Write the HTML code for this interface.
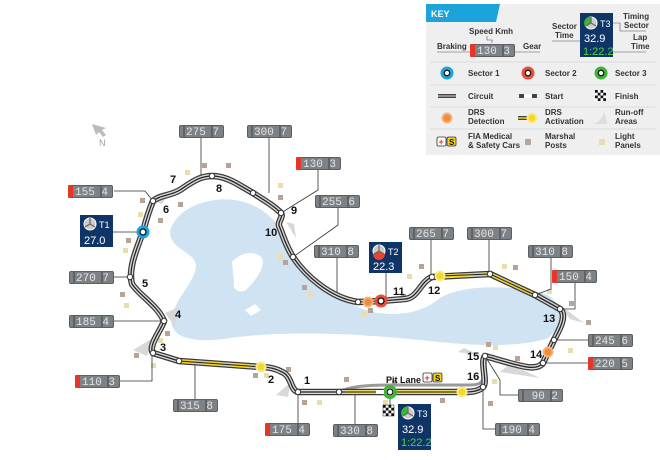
<!DOCTYPE html>
<html><head><meta charset="utf-8"><style>
html,body{margin:0;padding:0;background:#fff;}
svg{display:block;font-family:"Liberation Sans",sans-serif;}
.lb{font-size:11px;font-weight:bold;fill:#111;}
.kt{font-size:8px;font-weight:bold;fill:#333;}
.bt{font-size:11px;fill:#e6e6e6;font-family:"Liberation Mono",monospace;}
</style></head><body>
<svg width="660" height="460" viewBox="0 0 660 460" xmlns="http://www.w3.org/2000/svg">
<defs>
<g id="box"><rect x="0" y="0" width="45" height="13" rx="2" fill="#5b5f63"/><rect x="1" y="1" width="43" height="11" rx="1.5" fill="#7d8287"/><line x1="33" y1="1" x2="33" y2="12" stroke="#444"/><line x1="5" y1="1" x2="5" y2="12" stroke="#444"/></g>
<g id="rbox"><rect x="0" y="0" width="45" height="13" rx="2" fill="#5b5f63"/><rect x="1" y="1" width="43" height="11" rx="1.5" fill="#7d8287"/><line x1="33" y1="1" x2="33" y2="12" stroke="#444"/><rect x="0" y="0" width="5" height="13" rx="1" fill="#e8352a"/></g>
<path id="trk" d="M390,392 L298,392 C290,390 292,376 282,372 C275,368 268,367 261,367 L179,361 L153,353 C148,346 160,332 164,321 C158,306 140,296 132,284 C128,270 136,250 143,232 C146,220 150,208 153,201 C160,195 170,196 180,190 C192,182 200,176 212,176 C228,176 240,186 253,193 C264,200 274,206 281,213 C284,218 276,222 280,228 C283,236 287,248 293,257 C305,275 330,298 358,302 L381,301 L405,299 C418,298 420,282 432,277 L490,274 L535,295 L560,309 C568,316 558,332 554,340 L543,363 C536,372 520,366 485,356 C480,362 488,382 483,387 C478,392 470,392 462,392 Z"/>
</defs>

<!-- water -->
<path d="M170,232 C175,210 205,196 235,200 C262,204 280,222 292,250 C305,275 330,292 360,308 C385,318 420,316 440,298 C460,286 500,284 540,292 C562,298 568,322 548,338 C520,348 470,346 420,340 C360,334 290,330 230,338 C195,344 168,338 172,318 C174,300 195,282 196,266 C196,252 170,250 170,232 Z" fill="#cfe3f3"/>
<path d="M232,262 C240,252 256,250 262,258 C266,266 256,280 246,290 C240,294 232,290 234,282 Z" fill="#fff"/>
<path d="M245,310 l10,-6 l6,6 l-10,6 z" fill="#fff"/>

<!-- run-off areas -->
<g fill="#d8d8d8">
<path d="M150,200 l20,-8 l-8,12 z"/><path d="M286,222 l10,16 l-2,-14 z"/>
<path d="M165,313 l14,-6 l-4,20 z"/><path d="M133,350 l20,-12 l-6,18 z"/>
<path d="M276,395 l14,-12 l-2,14 z"/><path d="M458,352 l24,4 l-18,-8 z"/>
<path d="M560,305 l24,18 l-14,-4 z"/><path d="M500,372 l40,6 l-30,-14 z"/>
</g>

<!-- marshal / light posts -->
<g fill="#b9a296">
<rect x="202" y="163" width="5" height="5"/><rect x="226" y="163" width="5" height="5"/><rect x="140" y="198" width="5" height="5"/><rect x="178" y="202" width="5" height="5"/><rect x="158" y="218" width="5" height="5"/><rect x="126" y="238" width="5" height="5"/><rect x="278" y="195" width="5" height="5"/><rect x="283" y="260" width="5" height="5"/><rect x="302" y="285" width="5" height="5"/><rect x="120" y="292" width="5" height="5"/><rect x="165" y="331" width="5" height="5"/><rect x="134" y="353" width="5" height="5"/><rect x="253" y="373" width="5" height="5"/><rect x="286" y="367" width="5" height="5"/><rect x="302" y="400" width="5" height="5"/><rect x="344" y="377" width="5" height="5"/><rect x="392" y="380" width="5" height="5"/><rect x="440" y="398" width="5" height="5"/><rect x="488" y="401" width="5" height="5"/><rect x="515" y="356" width="5" height="5"/><rect x="486" y="342" width="5" height="5"/><rect x="532" y="365" width="5" height="5"/><rect x="569" y="301" width="5" height="5"/><rect x="513" y="265" width="5" height="5"/><rect x="401" y="294" width="5" height="5"/><rect x="368" y="308" width="5" height="5"/><rect x="419" y="264" width="5" height="5"/><rect x="586" y="320" width="5" height="5"/></g>
<g fill="#e9dcae">
<rect x="185" y="170" width="5" height="5"/><rect x="138" y="212" width="5" height="5"/><rect x="123" y="248" width="5" height="5"/><rect x="124" y="303" width="5" height="5"/><rect x="158" y="338" width="5" height="5"/><rect x="151" y="363" width="5" height="5"/><rect x="264" y="373" width="5" height="5"/><rect x="317" y="400" width="5" height="5"/><rect x="383" y="400" width="5" height="5"/><rect x="278" y="183" width="5" height="5"/><rect x="278" y="254" width="5" height="5"/><rect x="308" y="292" width="5" height="5"/><rect x="362" y="312" width="5" height="5"/><rect x="407" y="274" width="5" height="5"/><rect x="502" y="264" width="5" height="5"/><rect x="547" y="289" width="5" height="5"/><rect x="568" y="348" width="5" height="5"/><rect x="493" y="345" width="5" height="5"/><rect x="492" y="379" width="5" height="5"/></g>

<!-- north -->
<path d="M92,124 l14,4 l-4,2 l4,5 l-3,2 l-4,-5 l-3,3 z" fill="#bbb"/>
<text x="99" y="146" font-size="9" fill="#999">N</text>

<!-- leader lines -->
<g stroke="#333" stroke-width="0.8" fill="none">
<path d="M201,137 V176"/><path d="M269,137 V193"/><path d="M318,169 V190 L281,213"/><path d="M114,191 H145 L153,201"/>
<path d="M113,232 H143"/><path d="M114,277 H130"/><path d="M338,207 V225 L293,257"/><path d="M337,258 V293 L358,302"/>
<path d="M114,321 H164"/><path d="M120,381 H152 V353"/><path d="M195,399 V361"/>
<path d="M386,273 V301"/><path d="M431,240 V277"/><path d="M489,240 V274"/><path d="M551,257 V289 L535,295"/>
<path d="M575,282 V309 L560,309"/><path d="M588,340 H554"/><path d="M588,363 H543"/>
<path d="M518,395 H500 V380 L485,356"/><path d="M495,429 H483 V387"/><path d="M355,424 V392"/><path d="M298,423 V392"/><path d="M390,392 V405"/>
</g>

<!-- pit lane -->
<path d="M339,392 C350,386 370,385 390,385 L470,385 C480,385 483,383 485,372" fill="none" stroke="#9a9a9a" stroke-width="3"/>

<!-- track -->
<g fill="none" stroke-linejoin="round" stroke-linecap="round">
<use href="#trk" stroke="#3a3a3a" stroke-width="6.5"/>
<use href="#trk" stroke="#d9d9d9" stroke-width="4"/>
<use href="#trk" stroke="#222" stroke-width="1.3"/>
</g>
<!-- DRS yellow -->
<g fill="none" stroke="#f0d21a" stroke-width="3">
<path d="M261,367 L179,361"/><path d="M440,276 L490,274 L535,295"/><path d="M462,392 L345,392"/>
</g>
<g fill="none" stroke="#222" stroke-width="1"><path d="M261,367 L179,361"/><path d="M440,276 L490,274 L535,295"/><path d="M462,392 L345,392"/></g>

<!-- nodes -->
<g fill="#fff" stroke="#333" stroke-width="1">
<circle cx="212" cy="176" r="2.7"/><circle cx="253" cy="193" r="2.7"/><circle cx="281" cy="213" r="2.7"/><circle cx="153" cy="201" r="2.7"/><circle cx="130" cy="277" r="2.7"/><circle cx="293" cy="257" r="2.7"/><circle cx="358" cy="302" r="2.7"/><circle cx="164" cy="321" r="2.7"/><circle cx="153" cy="353" r="2.7"/><circle cx="179" cy="361" r="2.7"/><circle cx="298" cy="392" r="2.7"/><circle cx="339" cy="392" r="2.7"/><circle cx="432" cy="277" r="2.7"/><circle cx="490" cy="274" r="2.7"/><circle cx="535" cy="295" r="2.7"/><circle cx="560" cy="309" r="2.7"/><circle cx="554" cy="340" r="2.7"/><circle cx="543" cy="363" r="2.7"/><circle cx="485" cy="356" r="2.7"/><circle cx="483" cy="387" r="2.7"/>
</g>
<circle cx="143" cy="232" r="5" fill="#fff" stroke="#1aa6dd" stroke-width="3"/><circle cx="143" cy="232" r="3" fill="#fff" stroke="#111" stroke-width="1.3"/>
<circle cx="381" cy="301" r="5" fill="#fff" stroke="#ef4d35" stroke-width="3"/><circle cx="381" cy="301" r="3" fill="#fff" stroke="#111" stroke-width="1.3"/>
<circle cx="390" cy="392" r="5.5" fill="#fff" stroke="#38b832" stroke-width="3"/><circle cx="390" cy="392" r="3" fill="#fff" stroke="#111" stroke-width="1.3"/>
<circle cx="368" cy="302" r="4.5" fill="#f08c3a" stroke="#f7b27a" stroke-width="2"/>
<circle cx="548" cy="352" r="4.5" fill="#f08c3a" stroke="#f7b27a" stroke-width="2"/>
<g fill="#f3d928" stroke="#f8ea90" stroke-width="2"><circle cx="261" cy="367" r="4.5"/><circle cx="440" cy="276" r="4.5"/><circle cx="462" cy="392" r="4.5"/></g>
<rect x="376" y="390" width="8" height="4" fill="#fff"/>

<!-- corner labels -->
<g class="lb"><text x="304" y="384">1</text><text x="268" y="383">2</text><text x="160" y="351">3</text><text x="175" y="318">4</text><text x="142" y="287">5</text><text x="163" y="213">6</text><text x="170" y="183">7</text><text x="216" y="192">8</text><text x="291" y="214">9</text><text x="265" y="236">10</text><text x="393" y="295">11</text><text x="428" y="294">12</text><text x="543" y="322">13</text><text x="530" y="358">14</text><text x="467" y="360">15</text><text x="467" y="380">16</text></g>
<text x="386" y="383" font-size="9" font-weight="bold" fill="#111">Pit Lane</text>
<rect x="423" y="373" width="9" height="9" rx="1.5" fill="#fff" stroke="#333" stroke-width="0.8"/><text x="424.5" y="381" font-size="9" font-weight="bold" fill="#e8352a">+</text>
<rect x="433" y="373" width="9" height="9" rx="1.5" fill="#f0d21a" stroke="#333" stroke-width="0.8"/><text x="435" y="381" font-size="8" font-weight="bold" fill="#111">S</text>

<!-- finish flag -->
<g transform="translate(383,405)"><rect width="11" height="11" fill="#fff" stroke="#222" stroke-width="0.5"/><g fill="#111"><rect x="0" y="0" width="2.75" height="2.75"/><rect x="5.5" y="0" width="2.75" height="2.75"/><rect x="2.75" y="2.75" width="2.75" height="2.75"/><rect x="8.25" y="2.75" width="2.75" height="2.75"/><rect x="0" y="5.5" width="2.75" height="2.75"/><rect x="5.5" y="5.5" width="2.75" height="2.75"/><rect x="2.75" y="8.25" width="2.75" height="2.75"/><rect x="8.25" y="8.25" width="2.75" height="2.75"/></g></g>

<!-- speed boxes -->
<g>
<use href="#box" x="179" y="125"/><text class="bt" x="186" y="135">275 7</text>
<use href="#box" x="247" y="125"/><text class="bt" x="254" y="135">300 7</text>
<use href="#rbox" x="296" y="157"/><text class="bt" x="303" y="167">130 3</text>
<use href="#rbox" x="68" y="185"/><text class="bt" x="75" y="195">155 4</text>
<use href="#box" x="315" y="195"/><text class="bt" x="322" y="205">255 6</text>
<use href="#box" x="69" y="271"/><text class="bt" x="76" y="281">270 7</text>
<use href="#box" x="314" y="245"/><text class="bt" x="321" y="255">310 8</text>
<use href="#box" x="409" y="227"/><text class="bt" x="416" y="237">265 7</text>
<use href="#box" x="467" y="227"/><text class="bt" x="474" y="237">300 7</text>
<use href="#box" x="528" y="245"/><text class="bt" x="535" y="255">310 8</text>
<use href="#rbox" x="552" y="270"/><text class="bt" x="559" y="280">150 4</text>
<use href="#box" x="588" y="334"/><text class="bt" x="595" y="344">245 6</text>
<use href="#rbox" x="588" y="357"/><text class="bt" x="595" y="367">220 5</text>
<use href="#box" x="69" y="315"/><text class="bt" x="76" y="325">185 4</text>
<use href="#rbox" x="75" y="375"/><text class="bt" x="82" y="385">110 3</text>
<use href="#box" x="173" y="399"/><text class="bt" x="180" y="409">315 8</text>
<use href="#box" x="518" y="389"/><text class="bt" x="525" y="399">&#160;90 2</text>
<use href="#box" x="495" y="423"/><text class="bt" x="502" y="433">190 4</text>
<use href="#box" x="333" y="424"/><text class="bt" x="340" y="434">330 8</text>
<use href="#rbox" x="265" y="423"/><text class="bt" x="272" y="433">175 4</text>
</g>

<!-- sector boxes -->
<g>
<rect x="80" y="215" width="33" height="32" fill="#0f3566"/><circle cx="90" cy="224" r="6" fill="#ccc" stroke="#fff"/><path d="M90,224 V218 M90,224 l5,3 M90,224 l-5,3" stroke="#666" stroke-width="1.2"/><text x="99" y="228" font-size="9" fill="#fff">T1</text><text x="84" y="244" font-size="11" fill="#fff">27.0</text>
<rect x="369" y="242" width="33" height="31" fill="#0f3566"/><circle cx="379" cy="251" r="6" fill="#ccc" stroke="#fff"/><path d="M373,254 A6,6 0 0 0 385,254 L379,251 Z" fill="#e8452f"/><path d="M379,251 V245 M379,251 l5,3 M379,251 l-5,3" stroke="#666" stroke-width="1.2"/><text x="388" y="255" font-size="9" fill="#fff">T2</text><text x="373" y="270" font-size="11" fill="#fff">22.3</text>
<rect x="398" y="404" width="33" height="46" fill="#0f3566"/><circle cx="408" cy="413" r="6" fill="#ccc" stroke="#fff"/><path d="M408,413 L402,416 A6,6 0 0 1 408,407 Z" fill="#38b832"/><path d="M408,413 V407 M408,413 l5,3 M408,413 l-5,3" stroke="#666" stroke-width="1.2"/><text x="417" y="417" font-size="9" fill="#fff">T3</text><text x="402" y="433" font-size="11" fill="#fff">32.9</text><text x="401" y="446" font-size="11" fill="#4fd14a">1:22.2</text>
</g>

<!-- KEY panel -->
<rect x="426" y="4" width="234" height="151" fill="#efefef"/>
<path d="M426,4 H500 L496,22 H426 Z" fill="#1ba3dc"/>
<text x="431" y="17" font-size="9" font-weight="bold" fill="#fff">KEY</text>
<text class="kt" x="469" y="34">Speed Kmh</text><path d="M487,36 V40 H492 V43" stroke="#555" stroke-width="0.6" fill="none"/>
<text class="kt" x="437" y="49">Braking</text><path d="M437,52 H470" stroke="#555" stroke-width="0.6"/>
<use href="#rbox" x="470" y="44"/><text class="bt" x="477" y="54">130 3</text>
<text class="kt" x="523" y="49">Gear</text><path d="M515,52 H540" stroke="#555" stroke-width="0.6"/>
<text class="kt" x="552" y="29">Sector</text><text class="kt" x="555" y="38">Time</text><path d="M552,41 H580" stroke="#555" stroke-width="0.6"/>
<rect x="580" y="13" width="33" height="44" fill="#0f3566"/><circle cx="591" cy="23" r="6" fill="#ccc" stroke="#fff"/><path d="M591,23 L585,26 A6,6 0 0 1 591,17 Z" fill="#38b832"/><path d="M591,23 V17 M591,23 l5,3 M591,23 l-5,3" stroke="#666" stroke-width="1.2"/><text x="600" y="27" font-size="9" fill="#fff">T3</text><text x="584" y="42" font-size="11" fill="#fff">32.9</text><text x="583" y="55" font-size="11" fill="#4fd14a">1:22.2</text>
<text class="kt" x="623" y="19">Timing</text><text class="kt" x="624" y="28">Sector</text><path d="M613,23 H620 V31 H646" stroke="#555" stroke-width="0.6" fill="none"/>
<text class="kt" x="633" y="40">Lap</text><text class="kt" x="631" y="49">Time</text><path d="M613,52 H646" stroke="#555" stroke-width="0.6"/>
<g stroke="#d5d5d5" stroke-width="0.8"><path d="M430,62 H656"/><path d="M430,85 H656"/><path d="M430,107 H656"/><path d="M430,129 H656"/></g>
<circle cx="447" cy="73" r="5" fill="#fff" stroke="#1aa6dd" stroke-width="3"/><circle cx="447" cy="73" r="2.8" fill="#fff" stroke="#111" stroke-width="1.3"/>
<circle cx="528" cy="73" r="5" fill="#fff" stroke="#ef4d35" stroke-width="3"/><circle cx="528" cy="73" r="2.8" fill="#fff" stroke="#111" stroke-width="1.3"/>
<circle cx="601" cy="73" r="5" fill="#fff" stroke="#38b832" stroke-width="3"/><circle cx="601" cy="73" r="2.8" fill="#fff" stroke="#111" stroke-width="1.3"/>
<text class="kt" x="468" y="76">Sector 1</text><text class="kt" x="545" y="76">Sector 2</text><text class="kt" x="615" y="76">Sector 3</text>
<path d="M438,96 H456" stroke="#444" stroke-width="4"/><path d="M438,96 H456" stroke="#ddd" stroke-width="1"/>
<path d="M519,96 H537" stroke="#444" stroke-width="4"/><rect x="524" y="94" width="8" height="4" fill="#fff"/>
<g transform="translate(595,90)"><rect width="11" height="11" fill="#fff"/><g fill="#111"><rect x="0" y="0" width="2.75" height="2.75"/><rect x="5.5" y="0" width="2.75" height="2.75"/><rect x="2.75" y="2.75" width="2.75" height="2.75"/><rect x="8.25" y="2.75" width="2.75" height="2.75"/><rect x="0" y="5.5" width="2.75" height="2.75"/><rect x="5.5" y="5.5" width="2.75" height="2.75"/><rect x="2.75" y="8.25" width="2.75" height="2.75"/><rect x="8.25" y="8.25" width="2.75" height="2.75"/></g></g>
<text class="kt" x="468" y="99">Circuit</text><text class="kt" x="545" y="99">Start</text><text class="kt" x="615" y="99">Finish</text>
<circle cx="447" cy="118" r="4.5" fill="#f08c3a" stroke="#f7b27a" stroke-width="2"/>
<path d="M518,118 H530" stroke="#444" stroke-width="4"/><path d="M518,118 H530" stroke="#f0d21a" stroke-width="1.5"/><circle cx="532" cy="118" r="4.5" fill="#f3d928" stroke="#f8ea90" stroke-width="2"/>
<path d="M593,124 C600,122 604,116 604,110 L607,124 Z" fill="#ddd"/>
<text class="kt" x="468" y="115">DRS</text><text class="kt" x="468" y="124">Detection</text>
<text class="kt" x="545" y="115">DRS</text><text class="kt" x="545" y="124">Activation</text>
<text class="kt" x="615" y="115">Run-off</text><text class="kt" x="615" y="124">Areas</text>
<rect x="437" y="137" width="9" height="9" rx="1.5" fill="#fff" stroke="#333" stroke-width="0.8"/><text x="438.5" y="145" font-size="9" font-weight="bold" fill="#e8352a">+</text>
<rect x="447" y="137" width="9" height="9" rx="1.5" fill="#f0d21a" stroke="#333" stroke-width="0.8"/><text x="449" y="145" font-size="8" font-weight="bold" fill="#111">S</text>
<rect x="525" y="139" width="6" height="6" fill="#b9a296"/><rect x="599" y="139" width="6" height="6" fill="#e9dcae"/>
<text class="kt" x="468" y="139">FIA Medical</text><text class="kt" x="468" y="148">&amp; Safety Cars</text>
<text class="kt" x="545" y="139">Marshal</text><text class="kt" x="545" y="148">Posts</text>
<text class="kt" x="615" y="139">Light</text><text class="kt" x="615" y="148">Panels</text>
</svg>
</body></html>
